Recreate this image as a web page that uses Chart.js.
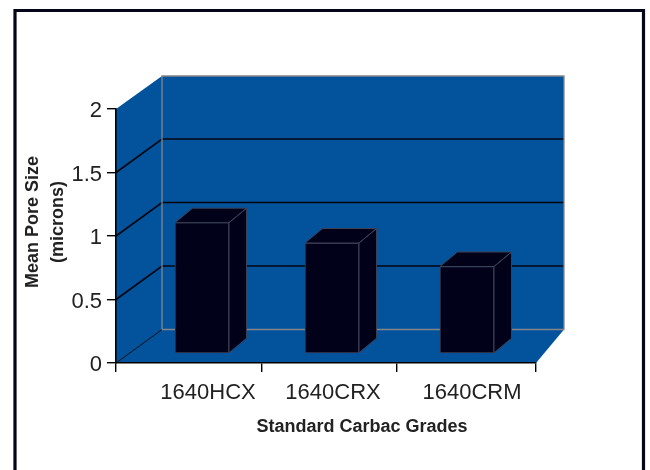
<!DOCTYPE html>
<html>
<head>
<meta charset="utf-8">
<title>Mean Pore Size</title>
<script src="https://cdn.jsdelivr.net/npm/chart.js@4"></script>
<style>
  html, body { margin:0; padding:0; background:#fff; overflow:hidden; }
  canvas { display:block; filter:blur(.4px); }
</style>
</head>
<body>
<canvas id="poreChart" width="650" height="470"></canvas>
<script>
const grades = ["1640HCX", "1640CRX", "1640CRM"];
const poreSizes = [1.03, 0.87, 0.685];
const yTicksStep = 0.5;
const yMax = 2;
const xTitle = "Standard Carbac Grades";
const yTitle = ["Mean Pore Size", "(microns)"];

// the old chart's perspective is not even, so these nudge things off the category centres
const barShift = [16, 6, 1];
const labelShift = [22, 7, 6];
const tickShift = [0, 6, 1, 0];

const wallBlue = "#02529c";
const barDark = "#01021a";
const barEdge = "#3c4056";
const ink = "#222";
const backLeft = 162, backRight = 564, backLift = 33.5;
const barLift = 9.5, barDepthX = 17.5, barDepthY = 14.5;

Chart.defaults.font.family = '"Liberation Sans", Arial, sans-serif';

class ShiftedCategory extends Chart.CategoryScale {
  _computeLabelItems(area){
    const items = super._computeLabelItems(area);
    items.forEach((it, i) => { it.options.translation[0] += labelShift[i] || 0; });
    return items;
  }
  _computeGridLineItems(area){
    const items = super._computeGridLineItems(area);
    items.forEach((it, i) => {
      const d = tickShift[i] || 0;
      it.tx1 += d; it.tx2 += d; it.x1 += d; it.x2 += d;
    });
    return items;
  }
}
ShiftedCategory.id = "shiftedCategory";
ShiftedCategory.defaults = Chart.CategoryScale.defaults;
Chart.register(ShiftedCategory);

function poly(ctx, pts, fill){
  ctx.beginPath();
  pts.forEach((p, i) => i ? ctx.lineTo(p[0], p[1]) : ctx.moveTo(p[0], p[1]));
  ctx.closePath();
  ctx.fillStyle = fill;
  ctx.fill();
}

function line(ctx, pts, color, w){
  ctx.beginPath();
  pts.forEach((p, i) => i ? ctx.lineTo(p[0], p[1]) : ctx.moveTo(p[0], p[1]));
  ctx.strokeStyle = color;
  ctx.lineWidth = w;
  ctx.stroke();
}

const room3d = {
  id: "room3d",
  afterDatasetsUpdate(chart){
    chart.getDatasetMeta(0).data.forEach((bar, i) => {
      bar.x += barShift[i];
      bar.y -= barLift;
      bar.base -= barLift;
    });
  },
  beforeDraw(chart){
    const { ctx, chartArea: a, scales: { y } } = chart;
    ctx.save();
    // page frame, runs off the bottom of the picture
    line(ctx, [[15, 480], [15, 10.5], [643.5, 10.5], [643.5, 480]], "#05051a", 3.2);

    const top = a.top - backLift + .5, floor = a.bottom - backLift;
    poly(ctx, [[a.left, a.top], [backLeft, top], [backLeft, floor], [a.left, a.bottom]], wallBlue);
    poly(ctx, [[backLeft, top], [backRight, top], [backRight, floor], [backLeft, floor]], wallBlue);
    poly(ctx, [[a.left, a.bottom], [backLeft, floor], [backRight, floor], [a.right, a.bottom]], wallBlue);

    y.ticks.forEach(t => {
      const py = y.getPixelForValue(t.value);
      if(t.value > 0 && t.value < yMax){
        line(ctx, [[a.left, py], [backLeft, py - backLift], [backRight, py - backLift]], "#04060f", 1.6);
      }
    });
    line(ctx, [[a.left, a.bottom], [backLeft, floor]], "#04060f", 1);
    line(ctx, [[backLeft, floor], [backRight, floor], [backRight, top], [backLeft, top], [backLeft, floor]], "#85868a", 1.3);
    ctx.restore();
  },
  afterDatasetsDraw(chart){
    const ctx = chart.ctx;
    ctx.save();
    chart.getDatasetMeta(0).data.forEach(bar => {
      const l = bar.x - bar.width / 2, r = bar.x + bar.width / 2;
      const t = bar.y, b = bar.base;
      const dx = barDepthX, dy = barDepthY;
      const topFace = [[l, t], [l + dx, t - dy], [r + dx, t - dy], [r, t]];
      const sideFace = [[r, t], [r + dx, t - dy], [r + dx, b - dy], [r, b]];
      poly(ctx, topFace, barDark);
      poly(ctx, sideFace, barDark);
      line(ctx, [...topFace, [l, t]], barEdge, 1);
      line(ctx, [...sideFace, [r, t]], barEdge, 1);
    });
    ctx.restore();
  },
  afterDraw(chart){
    const ctx = chart.ctx;
    ctx.save();
    ctx.fillStyle = ink;
    ctx.textAlign = "center";
    ctx.textBaseline = "middle";
    ctx.font = 'bold 18px "Liberation Sans", Arial, sans-serif';
    ctx.fillText(xTitle, 362, 427);
    ctx.translate(33, 222);
    ctx.rotate(-Math.PI / 2);
    ctx.fillText(yTitle[0], 0, 0);
    ctx.fillText(yTitle[1], 0, 25);
    ctx.restore();
  }
};

new Chart(document.getElementById("poreChart"), {
  type: "bar",
  data: {
    labels: grades,
    datasets: [{
      data: poreSizes,
      backgroundColor: barDark,
      borderColor: barEdge,
      borderWidth: 1,
      borderSkipped: false,
      barThickness: 54
    }]
  },
  options: {
    responsive: false,
    animation: false,
    devicePixelRatio: 1,
    layout: { autoPadding: false, padding: { left: 0, right: 114, top: 109, bottom: 67 } },
    plugins: { legend: { display: false }, tooltip: { enabled: false } },
    scales: {
      x: {
        type: "shiftedCategory",
        afterFit: s => { s.height = 40; },
        grid: { drawOnChartArea: false, drawTicks: true, tickLength: 9, color: "#000", lineWidth: 1.4 },
        border: { color: "#000", width: 1.6 },
        ticks: { color: ink, font: { size: 22 }, padding: 8, maxRotation: 0, autoSkip: false }
      },
      y: {
        min: 0,
        max: yMax,
        afterFit: s => { s.width = 116; },
        grid: { drawOnChartArea: false, drawTicks: true, tickLength: 9, color: "#000", lineWidth: 1.4 },
        border: { color: "#000", width: 1.6 },
        ticks: { stepSize: yTicksStep, color: ink, font: { size: 22 }, padding: 5, labelOffset: 2, callback: v => String(v) }
      }
    }
  },
  plugins: [room3d]
});
</script>
</body>
</html>
